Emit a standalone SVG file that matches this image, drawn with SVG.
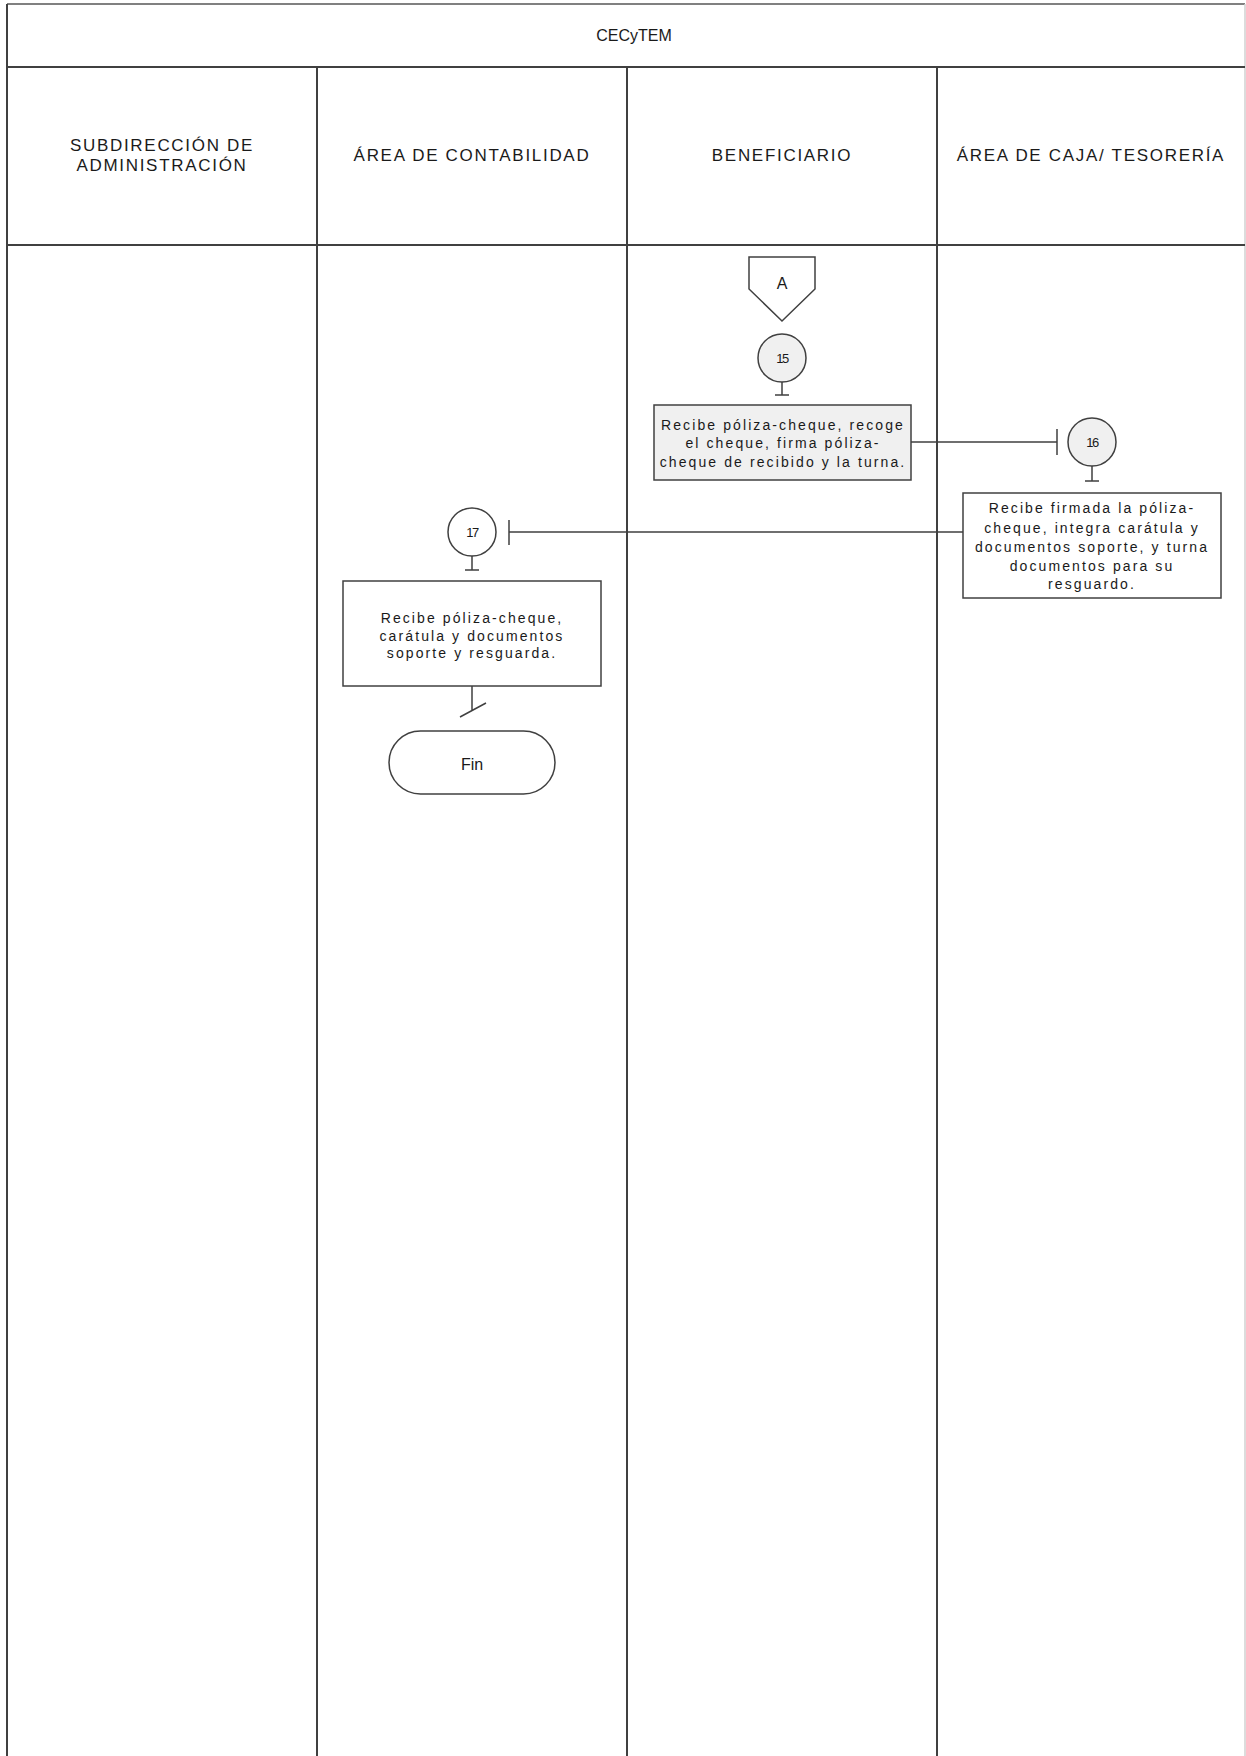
<svg xmlns="http://www.w3.org/2000/svg" width="1246" height="1756" viewBox="0 0 1246 1756">
<style>
.grid{stroke:#404040;stroke-width:2;fill:none}
.hdr{font-family:"Liberation Sans",Arial,sans-serif;font-size:17px;fill:#1a1a1a;text-anchor:middle;letter-spacing:1.7px}
.box{stroke:#404040;stroke-width:1.5}
.txt{font-family:"Liberation Sans",Arial,sans-serif;font-size:14px;fill:#1a1a1a;text-anchor:middle;letter-spacing:2.1px}
.num{font-family:"Liberation Sans",Arial,sans-serif;font-size:13px;fill:#1a1a1a;text-anchor:middle;letter-spacing:-1.5px}
.lbl{font-family:"Liberation Sans",Arial,sans-serif;font-size:16px;fill:#1a1a1a;text-anchor:middle}
.ln{stroke:#404040;stroke-width:1.5;fill:none}
.gray{fill:#f0f0f0}
.white{fill:#ffffff}
</style>
<rect x="0" y="0" width="1246" height="1756" fill="#ffffff"/>
<g id="table">
<line x1="7" y1="4" x2="1245" y2="4" stroke="#808080" stroke-width="2"/>
<line x1="1245" y1="4" x2="1245" y2="1756" stroke="#d0d0d0" stroke-width="1.5"/>
<line class="grid" x1="7" y1="4" x2="7" y2="1756"/>
<line class="grid" x1="7" y1="67" x2="1245" y2="67" stroke-width="2.5"/>
<line class="grid" x1="7" y1="245" x2="1245" y2="245"/>
<line class="grid" x1="317" y1="67" x2="317" y2="1756"/>
<line class="grid" x1="627" y1="67" x2="627" y2="1756"/>
<line class="grid" x1="937" y1="67" x2="937" y2="1756"/>
<text class="lbl" x="634" y="41" font-size="15">CECyTEM</text>
<text class="hdr" x="162" y="151">SUBDIRECCIÓN DE</text>
<text class="hdr" x="162" y="171">ADMINISTRACIÓN</text>
<text class="hdr" x="472" y="161">ÁREA DE CONTABILIDAD</text>
<text class="hdr" x="782" y="161">BENEFICIARIO</text>
<text class="hdr" x="1091" y="161">ÁREA DE CAJA/ TESORERÍA</text>
</g>
<g id="connectors">
<path class="ln" d="M782 382 V395 M775 395 H789"/>
<path class="ln" d="M911 442 H1057 M1057 429 V455"/>
<path class="ln" d="M1092 466 V481 M1085 481 H1099"/>
<path class="ln" d="M963 532 H509 M509 520 V545"/>
<path class="ln" d="M472 556 V570 M465 570 H479"/>
<path class="ln" d="M472 686 V710 M460 717 L486 703"/>
</g>
<g id="offpage-A">
<path class="box white" d="M749 257 H815 V289 L782 321 L749 289 Z"/>
<text class="lbl" x="782" y="289">A</text>
</g>
<g id="step15">
<circle class="box gray" cx="782" cy="358" r="24"/>
<text class="num" x="782" y="363">15</text>
</g>
<g id="box15">
<rect class="box gray" x="654" y="405" width="257" height="75"/>
<text class="txt" x="783" y="430">Recibe póliza-cheque, recoge</text>
<text class="txt" x="783" y="448">el cheque, firma póliza-</text>
<text class="txt" x="783" y="467">cheque de recibido y la turna.</text>
</g>
<g id="step16">
<circle class="box gray" cx="1092" cy="442" r="24"/>
<text class="num" x="1092" y="447">16</text>
</g>
<g id="box16">
<rect class="box white" x="963" y="493" width="258" height="105"/>
<text class="txt" x="1092" y="513">Recibe firmada la póliza-</text>
<text class="txt" x="1092" y="533">cheque, integra carátula y</text>
<text class="txt" x="1092" y="552">documentos soporte, y turna</text>
<text class="txt" x="1092" y="571">documentos para su</text>
<text class="txt" x="1092" y="589">resguardo.</text>
</g>
<g id="step17">
<circle class="box white" cx="472" cy="532" r="24"/>
<text class="num" x="472" y="537">17</text>
</g>
<g id="box17">
<rect class="box white" x="343" y="581" width="258" height="105"/>
<text class="txt" x="472" y="623">Recibe póliza-cheque,</text>
<text class="txt" x="472" y="641">carátula y documentos</text>
<text class="txt" x="472" y="658">soporte y resguarda.</text>
</g>
<g id="fin">
<rect class="box white" x="389" y="731" width="166" height="63" rx="31.5" ry="31.5"/>
<text class="lbl" x="472" y="770">Fin</text>
</g>
</svg>
